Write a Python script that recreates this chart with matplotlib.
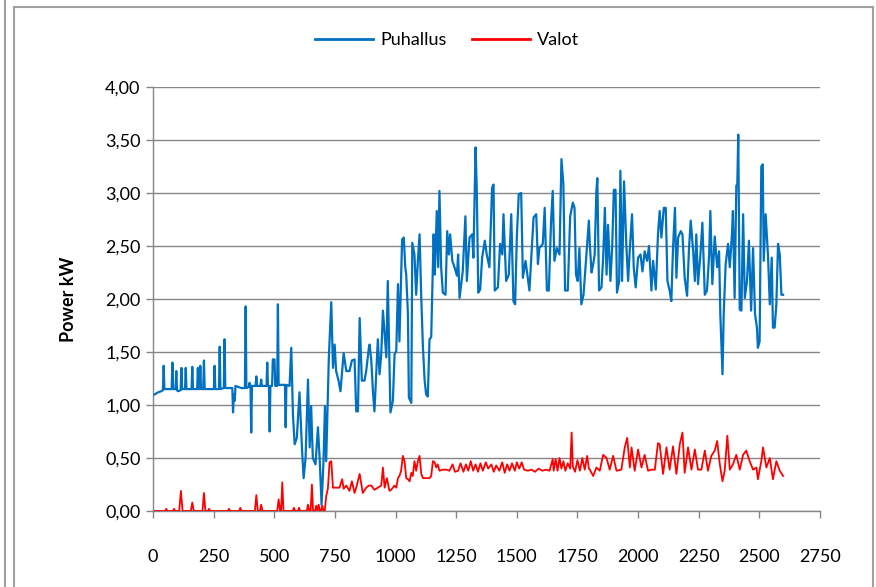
import matplotlib
matplotlib.use("Agg")
import matplotlib.pyplot as plt
from matplotlib.ticker import FuncFormatter, MultipleLocator
from matplotlib.lines import Line2D

# Puhallus (blower) power
puhallus_x = [
    7, 21, 34, 41, 44, 47, 69, 77, 80, 83, 93, 96, 99, 103, 114, 117, 120, 132, 135, 138,
    159, 162, 165, 182, 185, 188, 192, 195, 198, 207, 210, 213, 236, 251, 254, 257, 272, 275, 278, 292,
    295, 298, 323, 327, 330, 333, 337, 340, 364, 379, 382, 385, 395, 398, 402, 405, 408, 423, 426, 429,
    443, 446, 449, 468, 471, 474, 478, 481, 484, 491, 494, 501, 504, 512, 515, 518, 540, 544, 547, 550,
    563, 570, 577, 584, 593,
    604, 614, 621, 629, 639, 646, 652, 659, 670, 680, 687, 695, 703, 709, 714, 721, 725, 735, 742, 749,
    755, 765, 773, 786, 797, 810, 820, 831, 838, 845, 852, 861, 872, 879, 890,
    893, 900, 907, 913, 920, 927, 934, 941, 948, 955, 962, 968, 975, 979, 989, 996, 1003, 1010, 1016, 1023,
    1027, 1034, 1040, 1044, 1051, 1055, 1065, 1069, 1078, 1085, 1092, 1099, 1106, 1113, 1120, 1126, 1133, 1140, 1147, 1151,
    1157, 1162, 1170, 1176, 1181, 1188, 1195, 1206, 1213, 1220, 1225, 1234, 1243, 1253, 1258, 1264, 1277, 1288, 1294, 1305,
    1316, 1321, 1330, 1335, 1341, 1349, 1357, 1368, 1376, 1387, 1398, 1404, 1409, 1422, 1431, 1440, 1445, 1456, 1467, 1477,
    1486, 1493, 1500, 1508, 1518, 1525, 1536, 1545, 1552, 1559, 1569, 1580, 1587, 1593, 1607, 1615, 1624, 1632, 1641, 1648,
    1655, 1665, 1676, 1684, 1692, 1699, 1710, 1720, 1731, 1738, 1744, 1751, 1758, 1766, 1775, 1786, 1797,
    1801, 1808, 1815, 1821, 1828, 1832, 1839, 1849, 1856, 1863, 1870, 1876, 1886, 1893, 1900, 1907, 1913, 1922, 1927, 1934,
    1942, 1952, 1959, 1966, 1975, 1982, 1990, 2000, 2010, 2018, 2027, 2037, 2045, 2055, 2062, 2073, 2082, 2089, 2096, 2106,
    2114, 2121, 2130, 2137, 2144, 2152, 2158, 2165, 2176, 2183, 2192, 2202, 2210, 2217, 2227, 2234, 2240, 2247, 2257, 2265,
    2275, 2284, 2293, 2298, 2306, 2316, 2326, 2334, 2339, 2346, 2348, 2353, 2361, 2371, 2378, 2387, 2391, 2398, 2405, 2409,
    2413, 2419, 2426, 2433, 2440, 2449, 2457, 2466, 2474, 2482, 2490, 2494, 2501, 2508, 2514, 2518, 2526, 2536, 2543, 2551,
    2556, 2563, 2570, 2577, 2584, 2591, 2598,
]
puhallus_kw = [
    1.10, 1.12, 1.13, 1.14, 1.37, 1.15, 1.15, 1.15, 1.40, 1.15, 1.15, 1.32, 1.14, 1.13, 1.14, 1.35, 1.15, 1.15, 1.35, 1.15,
    1.15, 1.36, 1.15, 1.15, 1.35, 1.15, 1.15, 1.37, 1.15, 1.15, 1.42, 1.15, 1.15, 1.15, 1.37, 1.15, 1.15, 1.55, 1.15, 1.16,
    1.62, 1.16, 1.16, 1.16, 0.93, 1.10, 1.04, 1.18, 1.16, 1.16, 1.93, 1.16, 1.17, 1.21, 1.18, 0.74, 1.18, 1.18, 1.27, 1.18,
    1.18, 1.24, 1.18, 1.18, 1.40, 1.18, 1.18, 0.75, 1.18, 1.18, 1.43, 1.43, 1.18, 1.18, 1.95, 1.19, 1.19, 1.19, 0.79, 1.19,
    1.18, 1.54, 0.91, 0.63, 0.69,
    1.12, 0.60, 0.31, 0.50, 1.24, 0.60, 0.99, 0.50, 0.44, 0.79, 0.50, 0.06, 0.47, 0.99, 0.47, 1.10, 1.45, 1.97, 1.35, 1.57,
    1.32, 1.23, 1.13, 1.49, 1.32, 1.32, 1.42, 1.43, 0.94, 0.94, 1.82, 1.23, 1.23, 1.32, 1.54,
    1.57, 1.42, 1.12, 0.94, 1.29, 1.62, 1.29, 1.48, 1.89, 1.67, 1.45, 2.17, 1.38, 0.93, 1.04, 1.48, 1.51, 2.14, 1.60, 2.20,
    2.56, 2.58, 2.30, 2.23, 1.86, 1.07, 1.02, 2.53, 2.42, 2.04, 2.36, 2.61, 2.01, 1.54, 1.23, 1.10, 1.08, 1.62, 1.64, 2.04,
    2.61, 2.23, 2.83, 2.30, 3.02, 2.30, 2.06, 2.04, 2.64, 2.42, 2.61, 2.36, 2.30, 2.22, 2.42, 2.01, 2.26, 2.78, 2.17, 2.58,
    2.61, 2.39, 3.43, 3.02, 2.06, 2.09, 2.39, 2.55, 2.42, 2.30, 3.05, 3.08, 2.08, 2.11, 2.52, 2.42, 2.80, 2.17, 2.23, 2.80,
    1.98, 1.95, 2.58, 2.99, 3.00, 2.20, 2.36, 2.20, 2.08, 2.36, 2.77, 2.80, 2.33, 2.48, 2.52, 2.86, 2.08, 2.08, 2.72, 3.02,
    2.36, 2.48, 2.42, 3.32, 3.08, 2.08, 2.08, 2.78, 2.91, 2.86, 2.23, 2.17, 2.48, 1.95, 2.04, 2.39, 2.74,
    2.52, 2.25, 2.33, 2.42, 3.02, 3.14, 2.08, 2.11, 2.39, 2.86, 2.23, 2.70, 2.17, 2.48, 3.03, 3.03, 2.06, 2.17, 3.21, 2.17,
    3.11, 2.48, 2.17, 2.48, 2.80, 2.30, 2.11, 2.39, 2.42, 2.26, 2.45, 2.36, 2.50, 2.08, 2.36, 2.09, 2.61, 2.83, 2.58, 2.86,
    2.86, 2.17, 2.08, 1.98, 2.48, 2.86, 2.20, 2.58, 2.64, 2.61, 2.20, 2.03, 2.48, 2.74, 2.45, 2.17, 2.61, 2.14, 2.42, 2.72,
    2.04, 2.08, 2.42, 2.83, 2.14, 2.59, 2.30, 2.45, 1.86, 1.42, 1.29, 1.86, 2.33, 2.52, 2.30, 2.61, 2.83, 2.01, 3.07, 3.08,
    3.55, 1.90, 1.89, 2.80, 2.01, 2.17, 2.55, 1.89, 2.48, 1.86, 1.73, 1.54, 1.60, 3.25, 3.27, 2.36, 2.80, 2.39, 1.95, 2.39,
    1.73, 1.73, 1.95, 2.52, 2.42, 2.04, 2.04,
]

# Valot (lights) power
valot_x = [
    7, 50, 55, 60, 82, 87, 92, 108, 115, 122, 156, 162, 168, 204, 210, 216, 226, 231, 236, 308,
    313, 318, 355, 360, 365, 420, 426, 432, 441, 446, 451, 512, 518, 524, 528, 533, 538, 576, 581, 586,
    597, 602, 607, 634, 639, 644, 650, 655, 660, 668, 673, 678, 683, 688, 693, 698, 703, 708, 714, 721,
    728, 735, 742, 755, 769, 780, 786, 797, 810, 820, 831, 838, 852, 865, 879, 890,
    900, 913, 927, 941, 948, 955, 964, 975, 982, 996, 1003, 1010, 1016, 1023, 1030, 1037, 1044, 1051, 1058, 1065,
    1071, 1078, 1085, 1092, 1099, 1106, 1113, 1126, 1140, 1147, 1154, 1161, 1168, 1174, 1181, 1195,
    1210, 1222, 1235, 1245, 1258, 1268, 1280, 1290, 1300, 1310, 1320, 1330, 1340, 1350, 1360, 1372, 1382, 1395, 1405, 1415,
    1428, 1440, 1450, 1460, 1470, 1480, 1492, 1500, 1510, 1520, 1530, 1545, 1560, 1575, 1590, 1605, 1620, 1635, 1648, 1652,
    1660, 1668, 1676, 1684, 1692, 1700, 1710, 1720, 1726, 1731, 1740, 1750, 1760, 1770, 1780, 1790, 1797,
    1801, 1815, 1828, 1842, 1856, 1870, 1883, 1897, 1911, 1931, 1945, 1955, 1966, 1973, 1986, 2000, 2014, 2027, 2041, 2055,
    2069, 2082, 2089, 2103, 2117, 2130, 2144, 2158, 2172, 2183, 2192, 2206, 2220, 2234, 2247, 2261, 2275, 2288, 2302, 2316,
    2326, 2337, 2348, 2357, 2368, 2378, 2391, 2405, 2419, 2433, 2446, 2460, 2474, 2488, 2494, 2508, 2515, 2529, 2543, 2556,
    2570, 2584, 2598,
]
valot_kw = [
    0.00, 0.00, 0.02, 0.00, 0.00, 0.02, 0.00, 0.00, 0.19, 0.00, 0.00, 0.08, 0.00, 0.00, 0.17, 0.00, 0.00, 0.02, 0.00, 0.00,
    0.02, 0.00, 0.00, 0.03, 0.00, 0.00, 0.15, 0.00, 0.00, 0.06, 0.00, 0.00, 0.11, 0.00, 0.00, 0.27, 0.00, 0.00, 0.03, 0.00,
    0.00, 0.03, 0.00, 0.00, 0.06, 0.00, 0.00, 0.25, 0.00, 0.00, 0.05, 0.00, 0.06, 0.00, 0.00, 0.05, 0.00, 0.00, 0.14, 0.21,
    0.46, 0.47, 0.22, 0.22, 0.22, 0.30, 0.21, 0.24, 0.19, 0.28, 0.17, 0.22, 0.35, 0.17, 0.22, 0.24,
    0.24, 0.20, 0.22, 0.24, 0.41, 0.22, 0.31, 0.19, 0.20, 0.24, 0.22, 0.31, 0.33, 0.38, 0.52, 0.47, 0.31, 0.30, 0.28, 0.36,
    0.33, 0.47, 0.38, 0.47, 0.52, 0.35, 0.31, 0.31, 0.31, 0.33, 0.47, 0.46, 0.41, 0.44, 0.38, 0.39,
    0.39, 0.38, 0.44, 0.37, 0.38, 0.45, 0.37, 0.44, 0.38, 0.47, 0.38, 0.44, 0.37, 0.45, 0.38, 0.46, 0.40, 0.44, 0.37, 0.43,
    0.38, 0.46, 0.36, 0.44, 0.38, 0.45, 0.38, 0.46, 0.40, 0.46, 0.39, 0.38, 0.39, 0.37, 0.40, 0.38, 0.39, 0.38, 0.49, 0.38,
    0.49, 0.38, 0.50, 0.40, 0.47, 0.38, 0.45, 0.40, 0.74, 0.42, 0.37, 0.48, 0.38, 0.50, 0.39, 0.52, 0.40,
    0.39, 0.33, 0.41, 0.38, 0.53, 0.50, 0.39, 0.52, 0.38, 0.39, 0.60, 0.69, 0.41, 0.60, 0.38, 0.58, 0.41, 0.53, 0.38, 0.39,
    0.39, 0.64, 0.63, 0.35, 0.60, 0.39, 0.61, 0.35, 0.63, 0.74, 0.36, 0.60, 0.39, 0.58, 0.39, 0.39, 0.57, 0.38, 0.52, 0.57,
    0.66, 0.44, 0.28, 0.38, 0.71, 0.39, 0.44, 0.53, 0.39, 0.53, 0.57, 0.47, 0.39, 0.41, 0.30, 0.47, 0.60, 0.41, 0.50, 0.30,
    0.47, 0.38, 0.33,
]

x_ticks = list(range(0, 2751, 250))

BLUE = "#0070C0"
RED = "#FF0000"
GRID = "#868686"

plt.rcParams["font.family"] = ["Lato", "DejaVu Sans"]

fig = plt.figure(figsize=(8.76, 5.87), dpi=100)
ax = fig.add_axes([153 / 876, 1 - 511 / 587, (820 - 153) / 876, (511 - 87) / 587])

ax.plot(puhallus_x, puhallus_kw, color=BLUE, lw=1.6, label="Puhallus", zorder=3)
ax.plot(valot_x, valot_kw, color=RED, lw=1.3, label="Valot", zorder=3)

ax.set_xlim(0, 2750)
ax.set_ylim(0, 4)
ax.set_xticks(x_ticks)
ax.yaxis.set_major_locator(MultipleLocator(0.5))
ax.yaxis.set_major_formatter(FuncFormatter(lambda v, p: f"{v:.2f}".replace(".", ",")))

ax.grid(axis="y", color=GRID, lw=1.0)
ax.set_axisbelow(True)
for s in ["top", "right"]:
    ax.spines[s].set_visible(False)
for s in ["left", "bottom"]:
    ax.spines[s].set_color(GRID)
    ax.spines[s].set_linewidth(1.0)

ax.tick_params(axis="both", colors=GRID, length=5, width=1.0, labelcolor="black", labelsize=13)
ax.tick_params(axis="x", pad=22)
ax.tick_params(axis="y", pad=4)

ax.set_ylabel("Power kW", fontsize=13, fontweight="bold", labelpad=20)

fig.legend(handles=[Line2D([], [], color=BLUE, lw=2), Line2D([], [], color=RED, lw=2)],
           labels=["Puhallus", "Valot"], loc="center", bbox_to_anchor=(447 / 876, 1 - 40 / 587),
           ncol=2, frameon=False, fontsize=13, handlelength=3.2, handletextpad=0.4, columnspacing=1.4)

# chart frame borders
fig.add_artist(Line2D([14 / 876, 14 / 876], [0, 1 - 7 / 587], color="#A0A0A0", lw=1.5))
fig.add_artist(Line2D([14 / 876, 873 / 876], [1 - 7 / 587, 1 - 7 / 587], color="#A0A0A0", lw=1.5))
fig.add_artist(Line2D([873 / 876, 873 / 876], [0, 1 - 7 / 587], color="#A0A0A0", lw=1.5))
fig.add_artist(Line2D([5 / 876, 5 / 876], [0, 1], color="#A0A0A0", lw=1.5))

fig.savefig("out.png", dpi=100)
